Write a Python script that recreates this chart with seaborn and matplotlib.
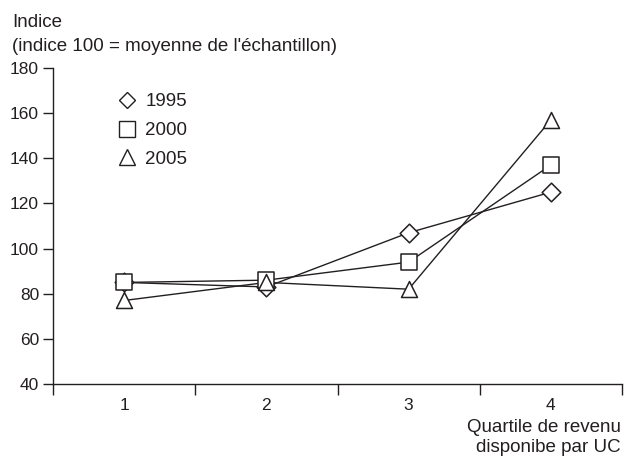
import matplotlib
matplotlib.use("Agg")
import matplotlib.pyplot as plt
from matplotlib.lines import Line2D
import pandas as pd
import seaborn as sns

# Indice de dépense par quartile de revenu disponible par UC
quartiles = [1, 2, 3, 4]
quartile_labels = ["1", "2", "3", "4"]
years = ["1995", "2000", "2005"]
idx_1995 = [85, 83, 107, 125]
idx_2000 = [85, 86, 94, 137]
idx_2005 = [77, 85, 82, 157]
y_ticks = [40, 60, 80, 100, 120, 140, 160, 180]

df = pd.DataFrame({
    "quartile": quartiles * 3,
    "indice": idx_1995 + idx_2000 + idx_2005,
    "annee": [y for y in years for _ in quartiles],
})

sns.set_theme(style="ticks")
plt.rcParams["font.family"] = ["Liberation Sans", "DejaVu Sans"]

ink = "#231f20"
text_size = 13.5
tick_size = 12.5
marker_map = {"1995": "D", "2000": "s", "2005": "^"}
marker_size = {"1995": 9.5, "2000": 11.5, "2005": 11.5}

fig = plt.figure(figsize=(6.25, 4.57), dpi=100)
ax = fig.add_axes([53 / 625, 1 - 384 / 457, (622 - 53) / 625, (384 - 68) / 457])

# lines first, then white-filled markers on top
sns.lineplot(data=df, x="quartile", y="indice", units="annee", estimator=None,
             color=ink, linewidth=1.0, legend=False, ax=ax, zorder=2)
for yr in years:
    sub = df[df["annee"] == yr]
    sns.scatterplot(data=sub, x="quartile", y="indice", marker=marker_map[yr],
                    s=marker_size[yr] ** 2, facecolor="white", edgecolor=ink,
                    linewidth=1.1, legend=False, ax=ax, zorder=3)

ax.set_xlim(0.5, 4.5)
ax.set_ylim(40, 180)
ax.set_yticks(y_ticks)
ax.set_xticks([0.5, 1.5, 2.5, 3.5, 4.5])
ax.set_xticklabels([])
ax.set_xticks(quartiles, minor=True)
ax.set_xticklabels(quartile_labels, minor=True)
ax.tick_params(axis="x", which="major", length=8, width=1.0, color=ink, direction="out")
ax.tick_params(axis="x", which="minor", length=0, pad=10, labelsize=tick_size,
               labelcolor=ink)
ax.tick_params(axis="y", length=7, width=1.0, color=ink, pad=3, labelsize=tick_size,
               labelcolor=ink)
ax.set_xlabel("")
ax.set_ylabel("")
sns.despine(ax=ax)
for side in ("left", "bottom"):
    ax.spines[side].set_color(ink)
    ax.spines[side].set_linewidth(1.0)

handles = [Line2D([], [], linestyle="none", marker=marker_map[yr],
                  markersize=marker_size[yr] * (0.85 if yr == "1995" else 0.95),
                  markerfacecolor="white", markeredgecolor=ink, markeredgewidth=1.0)
           for yr in years]
ax.legend(handles, years, loc="upper left", bbox_to_anchor=(108 / 625, 1 - 84 / 457),
          bbox_transform=fig.transFigure, frameon=False, fontsize=text_size,
          handlelength=1.0, handletextpad=0.5, labelspacing=0.62, borderpad=0,
          labelcolor=ink)

fig.text(12 / 625, 1 - 27 / 457, "Indice", fontsize=text_size, color=ink, va="baseline")
fig.text(12 / 625, 1 - 51 / 457, "(indice 100 = moyenne de l'échantillon)",
         fontsize=text_size, color=ink, va="baseline")
fig.text(621 / 625, 1 - 432 / 457, "Quartile de revenu", fontsize=text_size, color=ink,
         ha="right", va="baseline")
fig.text(621 / 625, 1 - 452 / 457, "disponibe par UC", fontsize=text_size, color=ink,
         ha="right", va="baseline")

fig.savefig("out.png", dpi=100)
